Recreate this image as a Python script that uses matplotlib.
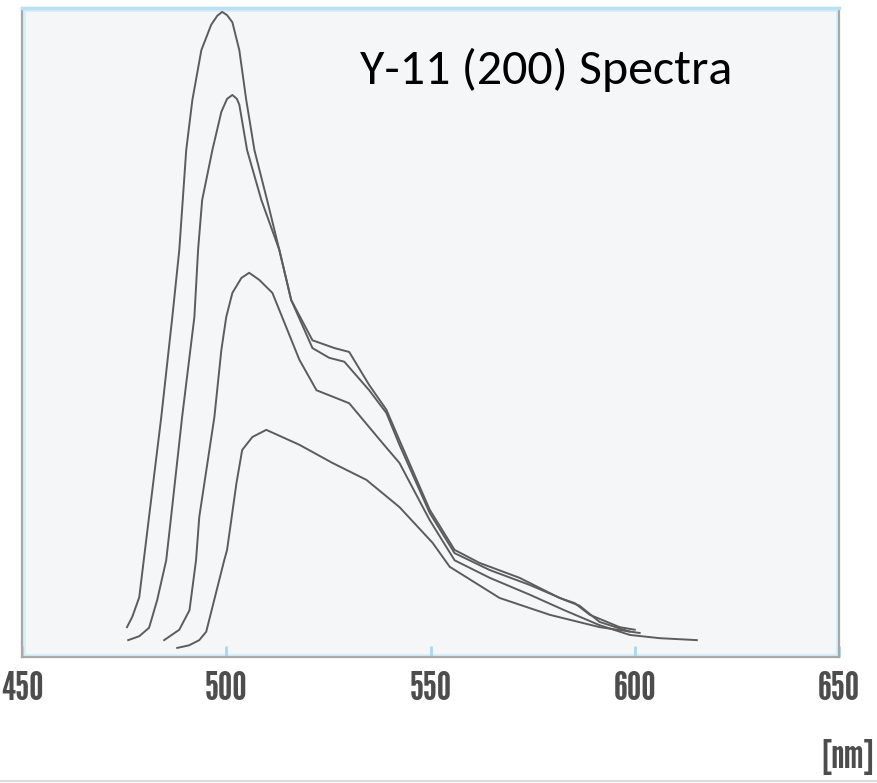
import numpy as np
import matplotlib
matplotlib.use("Agg")
import matplotlib.pyplot as plt
from matplotlib.lines import Line2D
from matplotlib.patches import Rectangle

# wavelength [nm] and relative intensity (0-100)
wl_1 = [475.7, 477.0, 478.7, 481.1, 484.1, 486.8, 488.5, 490.2, 491.7, 493.9, 496.3,
        497.8, 499.0, 500.2, 501.5, 503.2, 504.9, 506.9, 510.0, 513.0, 515.9, 521.1,
        526.5, 530.1, 535.0, 539.2, 542.4, 549.8, 555.9, 562.0, 571.8, 581.6, 585.3,
        589.0, 596.3, 600.0]
int_1 = [4.6, 6.2, 9.2, 21.6, 37.0, 52.4, 62.7, 78.1, 85.8, 93.5, 97.4,
         98.8, 99.4, 98.9, 97.8, 93.5, 85.8, 78.1, 70.4, 62.7, 55.0, 48.8,
         47.6, 47.0, 41.9, 38.1, 33.4, 22.7, 16.5, 14.5, 12.2, 9.1, 8.3,
         6.5, 4.6, 4.2]

wl_2 = [476.0, 478.7, 481.1, 481.9, 483.1, 485.3, 486.5, 489.2, 492.2, 493.1, 494.1,
        496.6, 498.8, 500.2, 501.5, 502.6, 503.2, 505.1, 508.6, 513.0, 515.9, 521.1,
        525.2, 528.9, 535.0, 539.2, 542.4, 549.8, 555.9, 564.5, 574.3, 582.8, 586.5,
        591.4, 598.8]
int_2 = [2.6, 3.2, 4.5, 6.2, 8.8, 14.9, 21.6, 37.0, 52.4, 62.7, 70.4,
         78.1, 84.0, 86.0, 86.6, 86.0, 85.1, 78.1, 70.4, 62.7, 55.0, 47.6,
         46.1, 45.5, 41.1, 37.6, 32.7, 22.2, 16.0, 13.4, 11.1, 8.8, 7.9,
         5.4, 3.9]

wl_3 = [484.8, 488.5, 491.0, 492.6, 493.4, 497.1, 498.8, 500.0, 501.5, 503.7, 505.6,
        508.1, 511.3, 517.9, 522.1, 530.1, 538.2, 542.4, 549.8, 555.9, 564.5, 574.3,
        582.8, 591.4, 598.8, 606.1, 615.2]
int_3 = [2.6, 4.2, 7.2, 14.9, 21.6, 37.0, 47.3, 52.4, 56.1, 58.4, 59.2,
         58.1, 56.1, 45.8, 41.1, 39.1, 33.0, 29.9, 21.1, 14.9, 12.2, 9.6,
         7.2, 4.9, 3.4, 2.9, 2.6]

wl_4 = [488.0, 490.9, 493.4, 495.1, 497.5, 499.5, 500.2, 502.5, 503.9, 506.4, 509.8,
        517.9, 526.0, 534.3, 542.4, 550.5, 554.7, 566.9, 579.2, 591.4, 601.2]
int_4 = [1.4, 1.8, 2.6, 3.9, 9.9, 14.9, 16.5, 26.8, 31.9, 33.9, 35.0,
         32.7, 29.9, 27.3, 23.1, 17.6, 13.9, 9.1, 6.5, 4.6, 3.7]

tick_vals = [450, 500, 550, 600, 650]
title = "Y-11 (200) Spectra"
unit_label = "[nm]"

fig = plt.figure(figsize=(8.77, 7.83), dpi=100)
ax = fig.add_axes([22 / 877, 126 / 783, 817 / 877, 649 / 783])
ax.set_facecolor("#f5f6f8")

for x, y in [(wl_1, int_1), (wl_2, int_2), (wl_3, int_3), (wl_4, int_4)]:
    ax.plot(x, y, color="#5c5c5c", lw=1.4, solid_joinstyle="round")

ax.set_xlim(450, 650)
ax.set_ylim(0, 100)
ax.set_yticks([])
ax.set_xticks(tick_vals)
lab_font = dict(family=["League Gothic", "DejaVu Sans"], size=29)
ax.set_xticklabels([str(t) for t in tick_vals], color="#4d4d4d", **lab_font)
ax.tick_params(axis="x", direction="in", length=8, width=2, color="#a9d8f2", pad=10)

# frame: grey outer edges, light-blue glow inside
for side in ["left", "right", "bottom"]:
    ax.spines[side].set_color("#a8a8a8")
    ax.spines[side].set_linewidth(1.6)
ax.spines["top"].set_color("#b9e0f5")
ax.spines["top"].set_linewidth(2.5)
ax.add_patch(Rectangle((0, 0), 1, 1, transform=ax.transAxes, fill=False,
                       edgecolor="#d6eefa", lw=5, zorder=0.5))

ax.text(0.4137, 0.883, title, transform=ax.transAxes, fontsize=36,
        family=["Carlito", "DejaVu Sans"], color="black", va="baseline")

fig.text(0.997, 0.033, unit_label, ha="right", va="center", color="#4d4d4d", **lab_font)
fig.add_artist(Line2D([0, 1], [0.003, 0.003], transform=fig.transFigure,
                      color="#dcdcdc", lw=1.5))

fig.savefig("out.png", dpi=100)
